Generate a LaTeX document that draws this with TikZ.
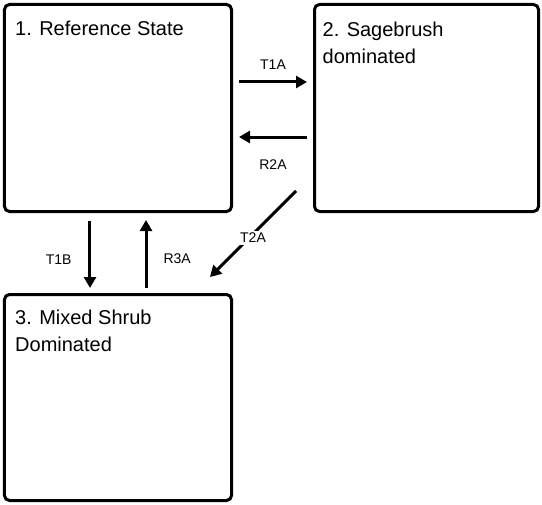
\documentclass[tikz,border=0pt]{standalone}
\usepackage{fontspec}
\setmainfont{Liberation Sans}
\usetikzlibrary{arrows.meta}
\usetikzlibrary{positioning}

\tikzset{
    state/.style={draw, line width=3bp, rounded corners=5bp, minimum width=227bp, minimum height=207bp},
    statetext/.style={inner sep=0pt, align=left, font=\fontsize{20bp}{27bp}\selectfont},
    trans/.style={line width=3bp, -{Triangle[length=11bp,width=12bp]}},
    translabel/.style={inner sep=0pt, font=\fontsize{14bp}{16bp}\selectfont},
}

\begin{document}
\begin{tikzpicture}
    \node[state] (s1) {};
    \node[state, minimum width=224bp, right=80bp of s1] (s2) {};
    \node[state, minimum height=206bp, below=80bp of s1] (s3) {};
    \node[statetext, below right=17.4bp and 12bp of s1.north west] (s1text) {1. Reference State};
    \node[statetext, below right=18.4bp and 9.5bp of s2.north west] (s2text) {2. Sagebrush\\dominated};
    \node[statetext, below right=16.4bp and 12bp of s3.north west] (s3text) {3. Mixed Shrub\\Dominated};
    % transitions
    \draw[trans] ([xshift=6bp, yshift=26bp]s1.east) -- ([xshift=-6bp, yshift=26bp]s2.west)
        node[translabel, midway, above=11bp] {T1A};
    \draw[trans] ([xshift=-6bp, yshift=-29bp]s2.west) -- ([xshift=6bp, yshift=-29bp]s1.east)
        node[translabel, midway, below=21bp] {R2A};
    \draw[trans] ([xshift=-28bp, yshift=-8bp]s1.south) -- ([xshift=-28bp, yshift=5bp]s3.north)
        node[translabel, pos=0.57, left=17bp] {T1B};
    \draw[trans] ([xshift=28bp, yshift=5bp]s3.north) -- ([xshift=28bp, yshift=-7bp]s1.south)
        node[translabel, pos=0.43, right=16bp] {R3A};
    \draw[trans] ([xshift=-17bp, yshift=22bp]s2.south west) -- ([xshift=-23bp, yshift=16bp]s3.north east)
        node[translabel, pos=0.5, yshift=-4bp, fill=white, inner sep=2bp] {T2A};
    \coordinate (corner) at (s2.east |- s3.south);
    \useasboundingbox ([shift={(-3bp,3bp)}]s1.north west) rectangle ([shift={(2bp,-3bp)}]corner);
\end{tikzpicture}
\end{document}
